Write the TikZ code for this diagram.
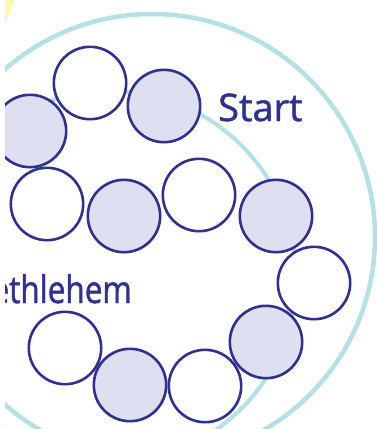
\documentclass[tikz,border=0pt]{standalone}
\usepackage{fontspec}
\setmainfont[FakeBold=1.2]{Open Sans}
\newfontfamily\bethfont[FakeStretch=0.83,FakeBold=1.2]{Open Sans}
\definecolor{navy}{HTML}{2E3192}
\definecolor{lav}{HTML}{DEDFF0}
\definecolor{ringc}{HTML}{B3E1E6}
\definecolor{sun}{HTML}{FFF8A8}
\tikzset{
  space/.style={circle, draw=navy, line width=2.6pt, minimum size=72.4pt, inner sep=0pt},
  dark/.style={space, fill=lav},
  light/.style={space, fill=white},
  ring/.style={draw=ringc},
  lbl/.style={text=navy, inner sep=0pt, font=\fontsize{38}{40}\selectfont}
}
\begin{document}
\begin{tikzpicture}[x=1pt,y=-1pt]
\useasboundingbox (0,0) rectangle (377,429);
\fill[white] (0,0) rectangle (377,429);
\clip (5,0) rectangle (377,429);
\fill[sun] (5,0) -- (14,0) -- (5,25) -- cycle;
\draw[ring, line width=4.5pt] (152,237) circle[radius=223pt];
\draw[ring, line width=4pt] (110,277) circle[radius=186pt];
\node[light] (a) at (90,83) {};
\node[dark]  (b) at (164,106) {};
\node[dark]  (c) at (30,131) {};
\node[light] (d) at (47,204) {};
\node[dark]  (e) at (124,216) {};
\node[light] (f) at (199,195) {};
\node[dark]  (g) at (276,216) {};
\node[light] (h) at (314,283) {};
\node[dark]  (l) at (266,342) {};
\node[light] (k) at (205,386) {};
\node[dark]  (j) at (130,385) {};
\node[light] (i) at (65,348) {};
\node[lbl, anchor=base west] (start) at (218,121) {Start};
\node[lbl, anchor=base east] (beth) at (132,303) {\bethfont Bethlehem};
\end{tikzpicture}
\end{document}
